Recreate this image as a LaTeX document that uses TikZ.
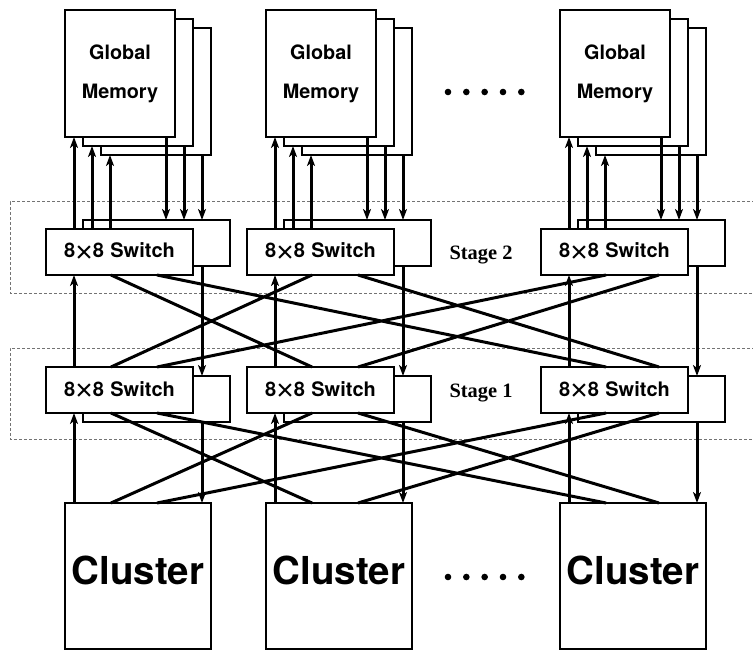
\documentclass[tikz,border=0pt]{standalone}
\usepackage{fontspec}
\setmainfont{TeX Gyre Heros}
\newfontfamily\stageserif{Liberation Serif}
\newfontfamily\crossfont{Liberation Sans}
\usetikzlibrary{arrows.meta}

% fonts of the labels
\newcommand\memfont{\fontsize{19.8}{39}\selectfont\bfseries}
\newcommand\swfont{\fontsize{20}{24}\selectfont\bfseries}
\newcommand\clfont{\fontsize{38.5}{44}\selectfont\bfseries}
\newcommand\stfont{\stageserif\fontsize{20.4}{24}\selectfont\bfseries}
% thin multiplication cross between the two 8s
\newcommand\crossx{\raisebox{-4.3pt}{\crossfont\mdseries\fontsize{30}{30}\selectfont ×}}
\newcommand\swlabel{8\crossx 8\hspace{6.5pt}Switch}

\begin{document}
\begin{tikzpicture}[x=1pt,y=-1pt,
  box/.style={draw, line width=2pt, fill=white, inner sep=0pt, outer sep=0pt, anchor=north west},
  membox/.style={box, minimum width=110pt, minimum height=127pt},
  swbox/.style={box, minimum width=147pt, minimum height=46pt},
  swfront/.style={swbox, font=\swfont, text height=12pt, text depth=0pt},
  clbox/.style={box, minimum width=146pt, minimum height=146pt, font=\clfont, text height=28pt, text depth=12pt},
  link/.style={line width=3pt},
  arr/.style={link, -{Stealth[length=11pt,width=8pt,inset=3pt]}},
  stagebound/.style={draw=black!55, line width=1pt, dash pattern=on 3pt off 2pt},
  stagelabel/.style={font=\stfont, anchor=base, inner sep=0pt},
]
\useasboundingbox (0,0) rectangle (753,650);

% dotted outlines of the two switch stages
\draw[stagebound] (770,202) -- (10,202) -- (10,293) -- (770,293);
\draw[stagebound] (770,348) -- (10,348) -- (10,439) -- (770,439);

% the three columns: memory stack, two switches, cluster
\foreach \c/\dx in {1/0, 2/201, 3/495} {
  \node[membox] (mem\c c) at (101+\dx,28) {};
  \node[membox] (mem\c b) at (83+\dx,19) {};
  \node[membox, align=center, font=\memfont] (mem\c a) at (65+\dx,10) {Global\\Memory};
  \node[swbox] (s2b\c) at (83+\dx,220) {};
  \node[swfront] (s2f\c) at (46+\dx,229) {\swlabel};
  \node[swbox] (s1b\c) at (83+\dx,376) {};
  \node[swfront] (s1f\c) at (46+\dx,367) {\swlabel};
  \node[clbox] (cl\c) at (65+\dx,503) {Cluster};
}

\node[stagelabel] (st2) at (481,259) {Stage 2};
\node[stagelabel] (st1) at (481,397) {Stage 1};

% ellipsis dots between the second and third columns
\foreach \i in {0,...,4} {
  \fill (448+18.33*\i,92) circle[radius=3.3pt];
  \fill (448+18.33*\i,577) circle[radius=3.3pt];
}

% vertical links of each column
\foreach \c/\r in {1/111, 2/111, 3/118} {
  % switch <-> memory modules
  \draw[arr] ([xshift=28pt]s2f\c.north west) -- ([xshift=9pt]mem\c a.south west);
  \draw[arr] ([xshift=46pt]s2f\c.north west) -- ([xshift=9pt]mem\c b.south west);
  \draw[arr] ([xshift=64pt]s2f\c.north west) -- ([xshift=9pt]mem\c c.south west);
  \draw[arr] ([xshift=101pt]mem\c a.south west) -- ([xshift=83pt]s2b\c.north west);
  \draw[arr] ([xshift=101pt]mem\c b.south west) -- ([xshift=101pt]s2b\c.north west);
  \draw[arr] ([xshift=101pt]mem\c c.south west) -- ([xshift=119pt]s2b\c.north west);
  % stage 1 <-> stage 2 and cluster <-> stage 1
  \draw[arr] ([xshift=28pt]s1f\c.north west) -- ([xshift=28pt]s2f\c.south west);
  \draw[arr] ([xshift=119pt]s2b\c.south west) -- ([xshift=119pt]s1b\c.north west);
  \draw[arr] ([xshift=9pt]cl\c.north west) -- ([xshift=28pt]s1f\c.south west);
  \draw[arr] ([xshift=119pt]s1b\c.south west) -- ([xshift=137pt]cl\c.north west);
  % attachment points of the crossing links
  \coordinate (s2L\c) at ([xshift=65pt]s2f\c.south west);
  \coordinate (s2R\c) at ([xshift=\r]s2f\c.south west);
  \coordinate (s1tL\c) at ([xshift=65pt]s1f\c.north west);
  \coordinate (s1tR\c) at ([xshift=\r]s1f\c.north west);
  \coordinate (s1bL\c) at ([xshift=65pt]s1f\c.south west);
  \coordinate (s1bR\c) at ([xshift=\r]s1f\c.south west);
  \coordinate (clL\c) at ([xshift=46pt]cl\c.north west);
  \coordinate (clR\c) at ([xshift=\r-19]cl\c.north west);
}

% crossing links: stage 2 -> stage 1
\draw[link] (s2L1) -- (s1tL2) (s2R1) -- (s1tL3) (s2R2) -- (s1tR3)
            (s2L2) -- (s1tL1) (s2L3) -- (s1tR1) (s2R3) -- (s1tR2);
% crossing links: stage 1 -> clusters
\draw[link] (s1bL1) -- (clL2) (s1bR1) -- (clL3) (s1bR2) -- (clR3)
            (s1bL2) -- (clL1) (s1bL3) -- (clR1) (s1bR3) -- (clR2);
\end{tikzpicture}
\end{document}
